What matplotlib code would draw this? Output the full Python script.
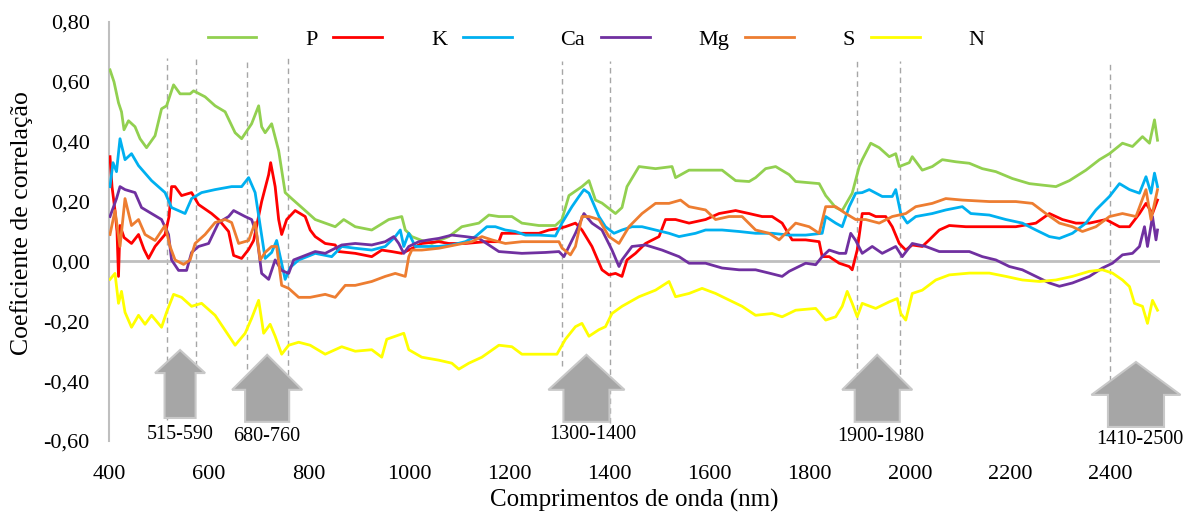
import matplotlib
matplotlib.use("Agg")
import matplotlib.pyplot as plt
from matplotlib.ticker import FuncFormatter

plt.rcParams["font.family"] = ["Liberation Serif", "DejaVu Serif"]

# ---- data (wavelength nm, correlation coefficient) ----
wl_p = [402, 410, 419, 425, 430, 439, 452, 462, 475, 492, 505, 515, 529, 542, 562, 569, 592,
        612, 632, 652, 665, 685, 699, 705, 712, 725, 739, 752, 765, 792, 812, 852, 869, 892,
        925, 959, 985, 992, 999, 1005, 1025, 1045, 1079, 1105, 1139, 1159, 1179, 1205, 1225,
        1259, 1292, 1305, 1319, 1345, 1359, 1372, 1385, 1412, 1425, 1435, 1459, 1492, 1525,
        1532, 1559, 1592, 1625, 1652, 1679, 1692, 1712, 1732, 1759, 1772, 1819, 1832, 1852,
        1865, 1885, 1899, 1905, 1922, 1939, 1959, 1972, 1979, 1999, 2005, 2025, 2045, 2065,
        2092, 2119, 2145, 2172, 2205, 2239, 2265, 2292, 2319, 2352, 2379, 2399, 2425, 2445,
        2465, 2479, 2489, 2495]
p_vals = [0.64, 0.60, 0.53, 0.50, 0.44, 0.47, 0.45, 0.41, 0.38, 0.42, 0.51, 0.52, 0.59, 0.56,
          0.56, 0.57, 0.55, 0.52, 0.50, 0.43, 0.41, 0.46, 0.52, 0.45, 0.43, 0.46, 0.37, 0.23,
          0.21, 0.17, 0.14, 0.116, 0.14, 0.116, 0.105, 0.14, 0.15, 0.105, 0.094, 0.083, 0.07,
          0.06, 0.083, 0.116, 0.128, 0.155, 0.15, 0.15, 0.128, 0.12, 0.12, 0.14, 0.22, 0.25,
          0.27, 0.205, 0.195, 0.16, 0.18, 0.25, 0.317, 0.31, 0.317, 0.28, 0.305, 0.305, 0.305,
          0.27, 0.267, 0.28, 0.31, 0.317, 0.29, 0.267, 0.26, 0.22, 0.18, 0.17, 0.228, 0.317,
          0.34, 0.395, 0.38, 0.35, 0.36, 0.317, 0.33, 0.35, 0.305, 0.317, 0.34, 0.333, 0.328,
          0.31, 0.30, 0.277, 0.26, 0.255, 0.25, 0.27, 0.305, 0.34, 0.36, 0.395, 0.384, 0.417,
          0.395, 0.473, 0.405]

wl_k = [402, 406, 412, 416, 419, 422, 430, 445, 459, 470, 479, 492, 512, 520, 525, 532, 545,
        565, 579, 605, 619, 639, 649, 665, 679, 689, 705, 719, 723, 732, 739, 745, 755, 772,
        792, 802, 812, 832, 852, 859, 892, 925, 945, 965, 985, 999, 1025, 1059, 1079, 1112,
        1152, 1179, 1185, 1212, 1259, 1279, 1299, 1312, 1332, 1345, 1365, 1385, 1399, 1412,
        1425, 1435, 1452, 1472, 1499, 1512, 1532, 1559, 1592, 1619, 1652, 1679, 1705, 1725,
        1745, 1765, 1792, 1819, 1825, 1839, 1859, 1879, 1885, 1895, 1905, 1919, 1932, 1952,
        1965, 1979, 1992, 2005, 2025, 2039, 2059, 2079, 2112, 2145, 2179, 2212, 2252, 2279,
        2305, 2332, 2359, 2392, 2419, 2439, 2459, 2472, 2485, 2495]
k_vals = [0.35, 0.25, 0.17, 0.10, -0.05, 0.12, 0.08, 0.06, 0.09, 0.04, 0.01, 0.05, 0.09, 0.15,
          0.25, 0.25, 0.22, 0.23, 0.19, 0.16, 0.14, 0.10, 0.02, 0.01, 0.04, 0.07, 0.20, 0.29,
          0.33, 0.25, 0.14, 0.09, 0.14, 0.17, 0.15, 0.105, 0.083, 0.06, 0.055, 0.033, 0.027,
          0.016, 0.038, 0.033, 0.027, 0.038, 0.06, 0.066, 0.06, 0.06, 0.066, 0.066, 0.094,
          0.094, 0.094, 0.105, 0.11, 0.116, 0.128, 0.105, 0.05, -0.028, -0.045, -0.04, -0.05,
          0.005, 0.027, 0.06, 0.083, 0.14, 0.14, 0.128, 0.14, 0.16, 0.17, 0.16, 0.15, 0.15,
          0.128, 0.072, 0.072, 0.066, 0.016, 0.016, -0.006, -0.017, -0.028, 0.038, 0.16, 0.16,
          0.15, 0.15, 0.116, 0.06, 0.038, 0.055, 0.05, 0.072, 0.105, 0.12, 0.116, 0.116, 0.116,
          0.116, 0.128, 0.16, 0.14, 0.128, 0.128, 0.14, 0.116, 0.116, 0.16, 0.194, 0.16, 0.205]

wl_ca = [402, 408, 415, 422, 432, 445, 459, 485, 512, 525, 552, 565, 585, 612, 645, 665, 679,
         692, 702, 712, 725, 735, 752, 762, 779, 802, 812, 845, 865, 892, 925, 952, 972, 982,
         989, 999, 1012, 1032, 1059, 1085, 1112, 1132, 1155, 1172, 1192, 1212, 1232, 1259,
         1292, 1305, 1325, 1339, 1349, 1359, 1379, 1392, 1409, 1425, 1445, 1465, 1492, 1519,
         1539, 1572, 1592, 1625, 1659, 1692, 1725, 1759, 1792, 1825, 1832, 1852, 1865, 1879,
         1892, 1905, 1919, 1945, 1965, 1972, 1982, 1995, 2012, 2045, 2072, 2105, 2122, 2159,
         2192, 2225, 2252, 2279, 2299, 2325, 2352, 2372, 2399, 2419, 2439, 2459, 2472, 2482,
         2489, 2495]
ca_vals = [0.25, 0.33, 0.30, 0.41, 0.34, 0.36, 0.32, 0.27, 0.23, 0.18, 0.16, 0.21, 0.23, 0.24,
           0.25, 0.25, 0.28, 0.23, 0.12, 0.01, 0.03, 0.07, -0.06, -0.02, 0.005, 0.02, 0.027,
           0.016, 0.05, 0.044, 0.038, 0.05, 0.083, 0.105, 0.05, 0.094, 0.05, 0.05, 0.05, 0.055,
           0.066, 0.083, 0.116, 0.116, 0.105, 0.10, 0.088, 0.088, 0.085, 0.128, 0.183, 0.217,
           0.24, 0.228, 0.15, 0.116, 0.094, 0.105, 0.116, 0.116, 0.105, 0.094, 0.083, 0.094,
           0.105, 0.105, 0.10, 0.094, 0.094, 0.088, 0.088, 0.094, 0.15, 0.128, 0.116, 0.183,
           0.228, 0.23, 0.24, 0.217, 0.217, 0.24, 0.16, 0.128, 0.15, 0.16, 0.172, 0.183, 0.16,
           0.155, 0.14, 0.128, 0.105, 0.083, 0.077, 0.094, 0.128, 0.172, 0.217, 0.26, 0.24,
           0.228, 0.283, 0.228, 0.295, 0.25]

wl_mg = [402, 415, 422, 432, 452, 465, 485, 505, 519, 525, 539, 555, 565, 579, 599, 619, 639,
         649, 672, 685, 695, 705, 719, 732, 745, 759, 769, 792, 812, 832, 865, 892, 925, 952,
         969, 979, 989, 999, 1019, 1039, 1059, 1085, 1112, 1139, 1159, 1179, 1225, 1272, 1299,
         1309, 1332, 1349, 1365, 1385, 1405, 1419, 1425, 1445, 1472, 1505, 1539, 1559, 1592,
         1625, 1659, 1692, 1719, 1745, 1759, 1792, 1812, 1825, 1839, 1859, 1872, 1882, 1892,
         1905, 1925, 1945, 1972, 1985, 2005, 2032, 2059, 2092, 2119, 2145, 2172, 2199, 2225,
         2252, 2279, 2299, 2325, 2359, 2385, 2405, 2425, 2445, 2459, 2469, 2475, 2485, 2492,
         2495]
mg_vals = [0.15, 0.21, 0.25, 0.24, 0.23, 0.18, 0.16, 0.14, 0.09, 0.005, -0.03, -0.03, 0.03,
           0.05, 0.06, 0.13, 0.15, 0.17, 0.15, 0.14, 0.09, -0.04, -0.06, 0.005, -0.03, -0.04,
           0.005, 0.02, 0.033, 0.027, 0.055, 0.06, 0.055, 0.066, 0.083, 0.06, 0.027, 0.05,
           0.066, 0.072, 0.077, 0.088, 0.083, 0.077, 0.055, 0.033, 0.027, 0.03, 0.033, 0.016,
           0.094, 0.16, 0.128, 0.105, 0.038, -0.017, 0.005, 0.05, 0.055, 0.038, 0.016, -0.006,
           -0.006, -0.022, -0.028, -0.028, -0.039, -0.05, -0.033, -0.006, -0.011, 0.016, 0.038,
           0.027, 0.027, 0.094, 0.07, 0.027, 0.05, 0.027, 0.05, 0.016, 0.06, 0.05, 0.033, 0.033,
           0.033, 0.016, 0.005, -0.017, -0.028, -0.05, -0.072, -0.083, -0.072, -0.05, -0.022,
           -0.006, 0.022, 0.027, 0.05, 0.116, 0.05, 0.15, 0.072, 0.105]

wl_s = [402, 412, 422, 432, 445, 459, 472, 492, 512, 522, 532, 549, 562, 572, 592, 612, 632,
        645, 659, 679, 692, 702, 712, 725, 735, 745, 759, 779, 802, 832, 852, 872, 892, 925,
        952, 972, 992, 999, 1005, 1025, 1059, 1092, 1125, 1145, 1165, 1192, 1225, 1259, 1299,
        1305, 1322, 1332, 1345, 1359, 1379, 1399, 1419, 1439, 1465, 1492, 1519, 1542, 1559,
        1592, 1612, 1639, 1665, 1692, 1719, 1739, 1752, 1772, 1799, 1819, 1832, 1852, 1872,
        1892, 1912, 1939, 1965, 1992, 2012, 2045, 2072, 2105, 2159, 2212, 2245, 2272, 2299,
        2325, 2345, 2372, 2399, 2425, 2452, 2472, 2482, 2495]
s_vals = [0.09, 0.17, 0.05, 0.21, 0.12, 0.14, 0.09, 0.07, 0.12, 0.05, 0.005, -0.01, 0.005,
          0.06, 0.09, 0.13, 0.14, 0.13, 0.06, 0.07, 0.13, 0.005, 0.03, 0.05, 0.05, -0.08, -0.09,
          -0.12, -0.12, -0.11, -0.12, -0.08, -0.08, -0.067, -0.05, -0.04, -0.05, 0.016, 0.038,
          0.038, 0.044, 0.055, 0.066, 0.083, 0.072, 0.06, 0.066, 0.066, 0.066, 0.045, 0.022,
          0.05, 0.15, 0.15, 0.14, 0.083, 0.06, 0.116, 0.16, 0.194, 0.194, 0.205, 0.183, 0.172,
          0.14, 0.15, 0.15, 0.105, 0.094, 0.072, 0.094, 0.128, 0.116, 0.094, 0.183, 0.183, 0.16,
          0.14, 0.14, 0.128, 0.15, 0.16, 0.183, 0.194, 0.21, 0.205, 0.20, 0.20, 0.194, 0.16,
          0.128, 0.116, 0.10, 0.116, 0.15, 0.16, 0.15, 0.24, 0.14, 0.24]

wl_n = [402, 412, 419, 425, 432, 445, 459, 472, 485, 505, 515, 529, 545, 565, 585, 612, 632,
        652, 672, 685, 699, 709, 722, 732, 745, 759, 779, 802, 832, 865, 892, 925, 945, 955,
        972, 989, 999, 1025, 1059, 1085, 1099, 1119, 1145, 1179, 1205, 1225, 1259, 1295, 1312,
        1332, 1345, 1359, 1379, 1392, 1405, 1425, 1459, 1492, 1519, 1532, 1559, 1585, 1612,
        1639, 1665, 1692, 1725, 1745, 1772, 1812, 1832, 1852, 1865, 1875, 1885, 1895, 1905,
        1932, 1959, 1975, 1982, 1992, 2005, 2025, 2052, 2079, 2119, 2159, 2192, 2225, 2259,
        2292, 2325, 2359, 2385, 2405, 2425, 2439, 2449, 2465, 2475, 2485, 2495]
n_vals = [-0.06, -0.04, -0.14, -0.10, -0.17, -0.22, -0.18, -0.21, -0.18, -0.22, -0.17, -0.11,
          -0.12, -0.15, -0.14, -0.18, -0.23, -0.28, -0.24, -0.19, -0.13, -0.24, -0.21, -0.25,
          -0.31, -0.28, -0.27, -0.28, -0.31, -0.285, -0.30, -0.295, -0.32, -0.26, -0.25, -0.24,
          -0.295, -0.32, -0.33, -0.34, -0.36, -0.34, -0.32, -0.28, -0.285, -0.31, -0.31, -0.31,
          -0.26, -0.218, -0.207, -0.25, -0.228, -0.218, -0.174, -0.15, -0.118, -0.096, -0.067,
          -0.118, -0.107, -0.09, -0.107, -0.129, -0.15, -0.18, -0.174, -0.185, -0.163, -0.157,
          -0.196, -0.185, -0.15, -0.10, -0.14, -0.185, -0.14, -0.157, -0.135, -0.124, -0.174,
          -0.196, -0.107, -0.096, -0.062, -0.045, -0.039, -0.039, -0.05, -0.062, -0.067, -0.062,
          -0.05, -0.033, -0.028, -0.039, -0.062, -0.084, -0.14, -0.15, -0.207, -0.13, -0.163]

series_names = ["P", "K", "Ca", "Mg", "S", "N"]
series_colors = ["#92D050", "#FF0000", "#00B0F0", "#7030A0", "#ED7D31", "#FFFF00"]

# dashed band limits (nm) and how far down each one runs
band_edges = [516, 574, 676, 758, 1305, 1401, 1895, 1980, 2400, 2502]
band_tops = [0.68, 0.68, 0.68, 0.68, 0.67, 0.67, 0.67, 0.67, 0.67, 0.67]
band_bottoms = [-0.53, -0.35, -0.36, -0.38, -0.35, -0.54, -0.39, -0.41, -0.40, -0.40]

# block arrows marking the bands
arrow_x = [542, 716, 1354, 1935, 2452]
arrow_base = [-0.523, -0.536, -0.536, -0.536, -0.553]
arrow_tip = [-0.296, -0.312, -0.312, -0.312, -0.336]
arrow_head_len = [0.077, 0.117, 0.117, 0.117, 0.11]
arrow_width = [100, 140, 152, 140, 178]
arrow_shaft = [62, 88, 92, 90, 112]
band_labels = ["515-590", "680-760", "1300-1400", "1900-1980", "1410-2500"]
label_x = [542, 716, 1366, 1942, 2460]
label_y = [-0.579, -0.586, -0.579, -0.586, -0.596]

fig = plt.figure(figsize=(11.87, 5.17), dpi=100)
ax = fig.add_axes([109 / 1187, 1 - 441 / 517, 1051 / 1187, 419 / 517])

for xv, y0, y1 in zip(band_edges, band_bottoms, band_tops):
    ax.vlines(xv, y0, y1, colors="#A6A6A6", linestyles=(0, (4, 3)), linewidth=1.0, zorder=1)

ax.axhline(0, color="#BFBFBF", linewidth=2.0, zorder=1)

wls = [wl_p, wl_k, wl_ca, wl_mg, wl_s, wl_n]
vals = [p_vals, k_vals, ca_vals, mg_vals, s_vals, n_vals]
for name, col, w, v in zip(series_names, series_colors, wls, vals):
    ax.plot(w, v, color=col, linewidth=2.0, label=name, zorder=3)

for xc, yb, yt, hl, wd, sh in zip(arrow_x, arrow_base, arrow_tip, arrow_head_len,
                                  arrow_width, arrow_shaft):
    ax.arrow(xc, yb, 0, yt - yb, width=sh, head_width=wd, head_length=hl,
             length_includes_head=True, facecolor="#A6A6A6", edgecolor="#C8C8C8",
             linewidth=1.5, zorder=4, clip_on=False)

for txt, xv, yv in zip(band_labels, label_x, label_y):
    ax.text(xv, yv, txt, ha="center", va="center", fontsize=14.5, clip_on=False)

ax.set_xlim(400, 2500)
ax.set_ylim(-0.6, 0.8)
ax.set_xticks(range(400, 2401, 200))
ax.set_yticks([-0.6, -0.4, -0.2, 0.0, 0.2, 0.4, 0.6, 0.8])
ax.yaxis.set_major_formatter(FuncFormatter(lambda v, _: f"{v:.2f}".replace(".", ",")))
ax.tick_params(axis="both", length=0, labelsize=16)
ax.tick_params(axis="x", pad=17)
ax.tick_params(axis="y", pad=14)

for side in ["top", "right", "bottom"]:
    ax.spines[side].set_visible(False)
ax.spines["left"].set_color("#BFBFBF")
ax.spines["left"].set_linewidth(1.5)

ax.set_xlabel("Comprimentos de onda (nm)", fontsize=18)
ax.xaxis.set_label_coords(0.5, -0.115)
ax.set_ylabel("Coeficiente de correlação", fontsize=18.5)
ax.yaxis.set_label_coords(-0.072, 0.52)

ax.legend(ncol=6, loc="center", bbox_to_anchor=(596 / 1187, 1 - 40 / 517),
          bbox_transform=fig.transFigure, frameon=False, fontsize=16,
          handlelength=2.2, handletextpad=2.2, columnspacing=0.7)

fig.savefig("out.png", dpi=100)
